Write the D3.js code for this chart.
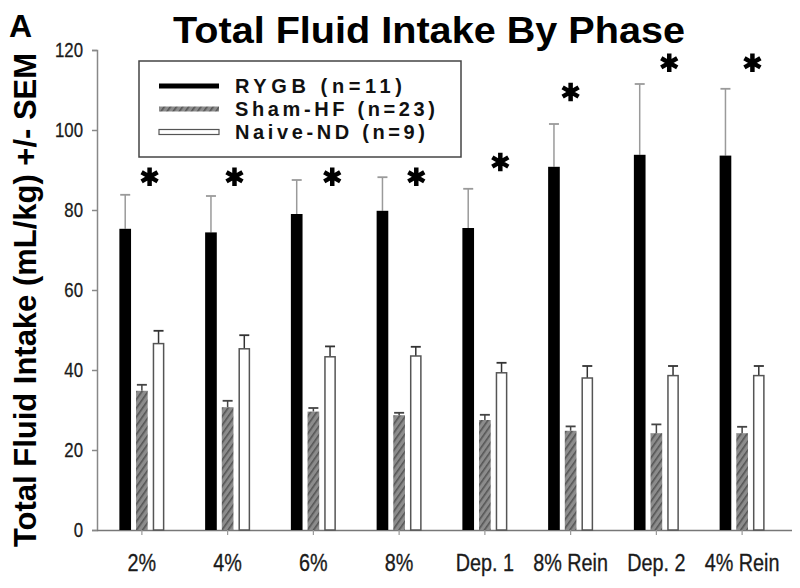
<!DOCTYPE html>
<html><head><meta charset="utf-8">
<script src="https://cdn.jsdelivr.net/npm/d3@7"></script>
<style>body{margin:0;background:#fff}</style>
</head><body>
<svg id="c" width="800" height="588"></svg>
<script>
const categories = ["2%", "4%", "6%", "8%", "Dep. 1", "8% Rein", "Dep. 2", "4% Rein"];
const seriesNames = ["RYGB (n=11)", "Sham-HF (n=23)", "Naive-ND (n=9)"];
const rygb      = [75.3, 74.4, 79.0, 79.8, 75.5, 90.8, 93.8, 93.6];
const rygbSem   = [8.5, 9.1, 8.5, 8.4, 9.8, 10.7, 17.7, 16.7];
const sham      = [34.8, 30.7, 29.6, 28.7, 27.5, 24.8, 24.2, 24.2];
const shamSem   = [1.5, 1.6, 0.9, 0.6, 1.3, 1.1, 2.2, 1.6];
const naive     = [46.6, 45.3, 43.3, 43.5, 39.3, 38.0, 38.6, 38.6];
const naiveSem  = [3.2, 3.4, 2.6, 2.3, 2.5, 3.0, 2.4, 2.4];
const starY     = [88.3, 88.3, 88.3, 88.3, 92.0, 109.5, 116.8, 116.8];
const starDx    = [0.09, 0.08, 0.22, 0.2, 0.18, 0.0, 0.15, 0.12];
const yTicks    = [0, 20, 40, 60, 80, 100, 120];

const svg = d3.select("#c");
const defs = svg.append("defs");
const pat = defs.append("pattern").attr("id","hatch").attr("patternUnits","userSpaceOnUse")
  .attr("width",5).attr("height",5).attr("patternTransform","rotate(35)");
pat.append("rect").attr("width",5).attr("height",5).attr("fill","#8c8c8c");
pat.append("rect").attr("width",1.6).attr("height",5).attr("fill","#555");

const y = d3.scaleLinear().domain([0,120]).range([530,50]);
const x0 = d3.scaleBand().domain(categories).range([99,785]);
const x1 = d3.scaleBand().domain([0,1,2]).range([-22.5,22.5]).paddingInner(0.3);

const data = [
  {vals: rygb, sem: rygbSem, fill:"#000", stroke:"none", err:"#9a9a9a"},
  {vals: sham, sem: shamSem, fill:"url(#hatch)", stroke:"none", err:"#444"},
  {vals: naive, sem: naiveSem, fill:"#fff", stroke:"#555", err:"#333"}
];

function narrow(sel, f){
  sel.each(function(){
    const L = this.getComputedTextLength();
    d3.select(this).attr("textLength", L*f).attr("lengthAdjust","spacingAndGlyphs");
  });
}

// axes
const yAxis = svg.append("g").attr("transform","translate(97,0)")
  .call(d3.axisLeft(y).tickValues(yTicks).tickSize(5).tickPadding(9));
yAxis.select(".domain").attr("stroke","#888").attr("stroke-width",1.5);
yAxis.selectAll(".tick line").attr("stroke","#888").attr("stroke-width",1.5);
yAxis.selectAll("text").attr("font-family","'Liberation Sans',Arial,sans-serif")
  .attr("font-size",21).attr("fill","#1a1a1a").attr("stroke","#1a1a1a").attr("stroke-width",0.3)
  .call(narrow,0.8);

const xAxis = svg.append("g").attr("transform","translate(0,530)")
  .call(d3.axisBottom(x0).tickSize(5).tickSizeOuter(0).tickPadding(20));
xAxis.select(".domain").attr("d","M97,0.5H792").attr("stroke","#777").attr("stroke-width",1.5);
xAxis.selectAll(".tick line").attr("stroke","#999").attr("stroke-width",1.2);
xAxis.selectAll("text").attr("font-family","'Liberation Sans',Arial,sans-serif")
  .attr("font-size",23).attr("fill","#1a1a1a").attr("stroke","#1a1a1a").attr("stroke-width",0.3)
  .call(narrow,0.86);

// bars
data.forEach((s,si)=>{
  const g = svg.append("g");
  const cx = i => x0(categories[i]) + x0.bandwidth()/2 + x1(si);
  const w = x1.bandwidth();
  g.selectAll("line.e").data(s.vals).join("line")
    .attr("x1",(d,i)=>cx(i)+w/2).attr("x2",(d,i)=>cx(i)+w/2)
    .attr("y1",d=>y(d)).attr("y2",(d,i)=>y(d+s.sem[i]))
    .attr("stroke",s.err).attr("stroke-width",1.5);
  g.selectAll("line.c").data(s.vals).join("line")
    .attr("x1",(d,i)=>cx(i)+w/2-5).attr("x2",(d,i)=>cx(i)+w/2+5)
    .attr("y1",(d,i)=>y(d+s.sem[i])).attr("y2",(d,i)=>y(d+s.sem[i]))
    .attr("stroke",s.err).attr("stroke-width",1.8);
  g.selectAll("rect").data(s.vals).join("rect")
    .attr("x",(d,i)=>cx(i) + (s.stroke!=="none"?0.75:0))
    .attr("width", w - (s.stroke!=="none"?1.5:0))
    .attr("y",d=>y(d))
    .attr("height",d=>y(0)-y(d))
    .attr("fill",s.fill).attr("stroke",s.stroke).attr("stroke-width",1.5);
});

// stars
const star = d3.symbol().type(d3.symbolAsterisk).size(240);
svg.append("g").selectAll("path").data(starY).join("path")
  .attr("d",star)
  .attr("transform",(d,i)=>`translate(${x0(categories[i])+x0.bandwidth()*(0.5+starDx[i])},${y(d)})`)
  .attr("stroke","#000").attr("stroke-width",4.5).attr("fill","none");

// legend
const lg = svg.append("g");
lg.append("rect").attr("x",139).attr("y",61).attr("width",322).attr("height",96)
  .attr("fill","#fff").attr("stroke","#444").attr("stroke-width",1.5);
const rowY = [86, 109, 132];
const txtLen = [167, 200, 190];
seriesNames.forEach((n,i)=>{
  const s = data[i];
  lg.append("rect").attr("x",159).attr("y",rowY[i]-2.5).attr("width",60).attr("height",5)
    .attr("fill",i===0?"#000":s.fill).attr("stroke",i===2?"#555":"none").attr("stroke-width",1.2);
  lg.append("text").attr("x",235).attr("y",rowY[i]+7).text(n)
    .attr("font-family","'Liberation Sans',Arial,sans-serif").attr("font-weight","bold")
    .attr("font-size",20).attr("fill","#111")
    .attr("textLength",txtLen[i]).attr("lengthAdjust","spacing");
});

// title
svg.append("text").attr("x",429).attr("y",43).attr("text-anchor","middle")
  .attr("font-family","'Liberation Sans',Arial,sans-serif").attr("font-weight","bold")
  .attr("font-size",37).attr("fill","#000")
  .attr("textLength",512).attr("lengthAdjust","spacingAndGlyphs")
  .text("Total Fluid Intake By Phase");
svg.append("text").attr("x",9).attr("y",37)
  .attr("font-family","'Liberation Sans',Arial,sans-serif").attr("font-weight","bold")
  .attr("font-size",32).attr("fill","#000").text("A");

// y label
svg.append("text").attr("transform","translate(36,300) rotate(-90)").attr("text-anchor","middle")
  .attr("font-family","'Liberation Sans',Arial,sans-serif").attr("font-weight","bold")
  .attr("font-size",31).attr("fill","#000")
  .attr("textLength",494).attr("lengthAdjust","spacingAndGlyphs")
  .text("Total Fluid Intake (mL/kg) +/- SEM");
</script>
</body></html>
